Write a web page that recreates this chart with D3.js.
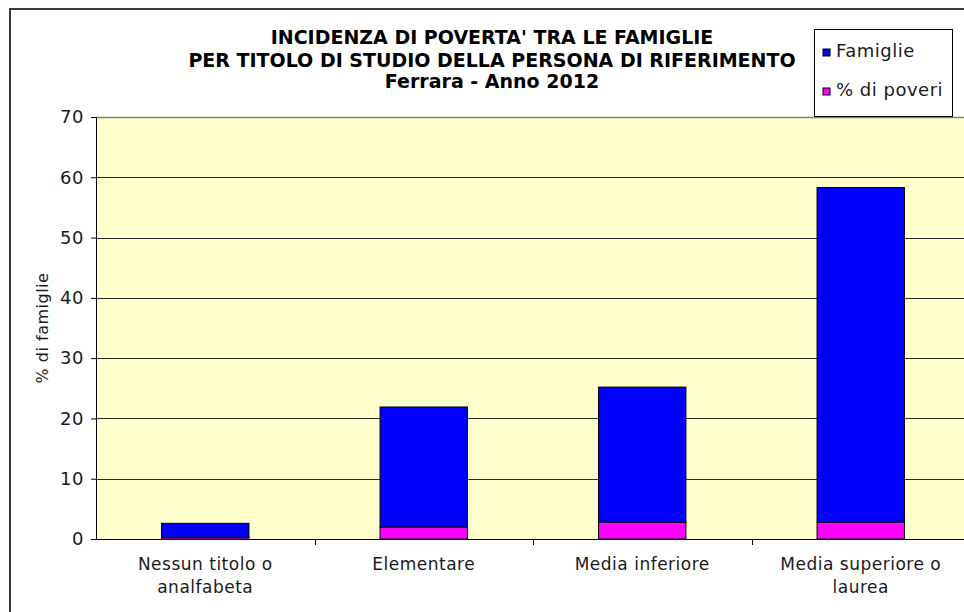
<!DOCTYPE html>
<html>
<head>
<meta charset="utf-8">
<script src="https://cdn.jsdelivr.net/npm/d3@7"></script>
<style>
  body { margin: 0; background: #fff; }
  svg { display: block; font-family: "DejaVu Sans", Verdana, sans-serif; }
</style>
</head>
<body>
<svg id="chart" width="964" height="612"></svg>
<script>
// data
var categories = ['Nessun titolo o analfabeta', 'Elementare', 'Media inferiore', 'Media superiore o laurea'];
var catLines = [['Nessun titolo o', 'analfabeta'], ['Elementare'], ['Media inferiore'], ['Media superiore o', 'laurea']];
var poveri = [0.3, 2.0, 2.8, 2.8];
var famiglie = [2.3, 19.9, 22.4, 55.5];
var yTicks = [0, 10, 20, 30, 40, 50, 60, 70];
var titleLines = [
  "INCIDENZA DI POVERTA' TRA LE FAMIGLIE",
  'PER TITOLO DI STUDIO DELLA PERSONA DI RIFERIMENTO',
  'Ferrara - Anno 2012'
];
var seriesNames = ['Famiglie', '% di poveri'];
var colors = { famiglie: '#0000ff', poveri: '#ff00ff' };

var labelFont = 17;
var labelSpacing = 0.5;

var svg = d3.select('#chart');

// outer chart frame (right and bottom edges fall outside the picture)
svg.append('rect')
  .attr('x', 10).attr('y', 9).attr('width', 980).attr('height', 640)
  .attr('fill', '#fff').attr('stroke', '#3a3a3a').attr('stroke-width', 2);

var plot = { left: 96, top: 117, right: 970, bottom: 539 };

var x = d3.scaleBand()
  .domain(categories)
  .range([plot.left, plot.right])
  .paddingInner(0.6)
  .paddingOuter(0.3);

var y = d3.scaleLinear().domain([0, 70]).range([plot.bottom, plot.top]);

// plot background
svg.append('rect')
  .attr('x', plot.left).attr('y', plot.top)
  .attr('width', plot.right - plot.left).attr('height', plot.bottom - plot.top)
  .attr('fill', '#ffffcc');

// gridlines
svg.append('g').selectAll('line')
  .data(yTicks.slice(1, -1))
  .join('line')
  .attr('x1', plot.left).attr('x2', plot.right)
  .attr('y1', function (d) { return Math.round(y(d)) + 0.5; })
  .attr('y2', function (d) { return Math.round(y(d)) + 0.5; })
  .attr('stroke', '#2b2b2b').attr('stroke-width', 1);

// plot top border
svg.append('line')
  .attr('x1', plot.left).attr('x2', plot.right)
  .attr('y1', plot.top + 0.5).attr('y2', plot.top + 0.5)
  .attr('stroke', '#7f7f7f').attr('stroke-width', 1.5);

// stacked bars: poveri at the bottom, famiglie on top
var stackData = categories.map(function (c, i) {
  return { cat: c, poveri: poveri[i], famiglie: famiglie[i] };
});
var stacked = d3.stack().keys(['poveri', 'famiglie'])(stackData);

svg.append('g').selectAll('g')
  .data(stacked)
  .join('g')
  .attr('fill', function (s) { return colors[s.key]; })
  .selectAll('rect')
  .data(function (s) { return s; })
  .join('rect')
  .attr('x', function (d) { return x(d.data.cat); })
  .attr('width', x.bandwidth())
  .attr('y', function (d) { return y(d[1]); })
  .attr('height', function (d) { return y(d[0]) - y(d[1]); })
  .attr('stroke', '#000').attr('stroke-width', 1);

// y axis
var yAxis = svg.append('g')
  .attr('transform', 'translate(' + plot.left + ',0)')
  .call(d3.axisLeft(y).tickValues(yTicks).tickSize(5).tickPadding(7));
yAxis.select('.domain').attr('stroke', '#000');
yAxis.selectAll('.tick line').attr('stroke', '#000');
yAxis.selectAll('text')
  .attr('font-size', labelFont + 1).attr('fill', '#1a1a1a')
  .attr('letter-spacing', labelSpacing)
  .attr('font-family', '"DejaVu Sans", Verdana, sans-serif');

// x axis: baseline and ticks between categories
var step = x.step();
var xTicks = d3.range(1, categories.length).map(function (i) { return plot.left + i * step; });
svg.append('line')
  .attr('x1', plot.left).attr('x2', plot.right)
  .attr('y1', plot.bottom + 0.5).attr('y2', plot.bottom + 0.5)
  .attr('stroke', '#000');
svg.append('g').selectAll('line')
  .data(xTicks)
  .join('line')
  .attr('x1', function (d) { return Math.round(d) + 0.5; })
  .attr('x2', function (d) { return Math.round(d) + 0.5; })
  .attr('y1', plot.bottom).attr('y2', plot.bottom + 6)
  .attr('stroke', '#000');

// category labels
svg.append('g').selectAll('text')
  .data(categories)
  .join('text')
  .attr('x', function (d) { return x(d) + x.bandwidth() / 2; })
  .attr('y', 570)
  .attr('text-anchor', 'middle')
  .attr('font-size', labelFont).attr('fill', '#1a1a1a')
  .attr('letter-spacing', labelSpacing)
  .each(function (d, i) {
    var t = d3.select(this);
    catLines[i].forEach(function (line, j) {
      t.append('tspan')
        .attr('x', x(d) + x.bandwidth() / 2)
        .attr('dy', j === 0 ? 0 : 23)
        .text(line);
    });
  });

// y axis title
svg.append('text')
  .attr('transform', 'translate(48,' + (plot.top + plot.bottom) / 2 + ') rotate(-90)')
  .attr('text-anchor', 'middle')
  .attr('font-size', 16).attr('fill', '#1a1a1a')
  .attr('letter-spacing', labelSpacing)
  .text('% di famiglie');

// title
svg.append('g').selectAll('text')
  .data(titleLines)
  .join('text')
  .attr('x', 492)
  .attr('y', function (d, i) { return [44, 67, 88][i]; })
  .attr('text-anchor', 'middle')
  .attr('font-size', 19).attr('font-weight', 'bold').attr('fill', '#000')
  .text(function (d) { return d; });

// legend
var legend = svg.append('g').attr('transform', 'translate(814,29)');
legend.append('rect')
  .attr('x', 0.5).attr('y', 0.5).attr('width', 138).attr('height', 87)
  .attr('fill', '#fff').attr('stroke', '#000');
var legendColors = [colors.famiglie, colors.poveri];
var item = legend.selectAll('g.item')
  .data(seriesNames)
  .join('g')
  .attr('class', 'item')
  .attr('transform', function (d, i) { return 'translate(9,' + (20 + i * 39) + ')'; });
item.append('rect')
  .attr('width', 7).attr('height', 7)
  .attr('fill', function (d, i) { return legendColors[i]; })
  .attr('stroke', '#000');
item.append('text')
  .attr('x', 13).attr('y', 8)
  .attr('font-size', labelFont + 1).attr('fill', '#1a1a1a')
  .attr('letter-spacing', labelSpacing)
  .text(function (d) { return d; });
</script>
</body>
</html>
